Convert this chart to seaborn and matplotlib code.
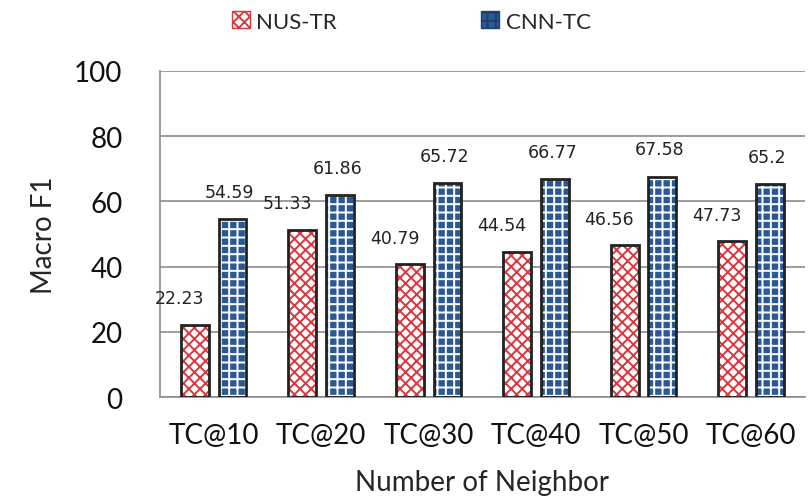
import matplotlib
matplotlib.use("Agg")
import pandas as pd
import seaborn as sns
from matplotlib import pyplot as plt
from matplotlib.patches import Rectangle, Patch

# data
neighbors = ['TC@10', 'TC@20', 'TC@30', 'TC@40', 'TC@50', 'TC@60']
nus_tr = [22.23, 51.33, 40.79, 44.54, 46.56, 47.73]
cnn_tc = [54.59, 61.86, 65.72, 66.77, 67.58, 65.2]
methods = ['NUS-TR', 'CNN-TC']

frame = pd.DataFrame({
    'neighbor': neighbors * 2,
    'f1': nus_tr + cnn_tc,
    'method': [methods[0]] * len(neighbors) + [methods[1]] * len(neighbors),
})

sns.set_style("white")
plt.rcParams['font.family'] = ['Lato', 'DejaVu Sans']
plt.rcParams['hatch.linewidth'] = 1.4

# style per series: face, hatch colour, hatch pattern
styles = {
    'NUS-TR': ('white', '#d9363e', 'xxx'),
    'CNN-TC': ('#2b5993', 'white', '++'),
}

fig = plt.figure(figsize=(8.08, 5.02), dpi=100)
ax = fig.add_axes([0.198, 0.207, 0.798, 0.65])

sns.barplot(data=frame, x='neighbor', y='f1', hue='method', hue_order=methods,
            order=neighbors, width=0.7, gap=0.26, ax=ax, legend=False)

for method, bars in zip(methods, ax.containers):
    face, hcol, hatch = styles[method]
    for bar in bars:
        bar.set_facecolor(face)
        bar.set_edgecolor(hcol)
        bar.set_hatch(hatch)
        bar.set_linewidth(0)
        # dark outline on top of hatched bar
        ax.add_patch(Rectangle(bar.get_xy(), bar.get_width(), bar.get_height(),
                               fill=False, edgecolor='#222222', linewidth=2, zorder=3))

# value labels, placed up and to the left like the original
offsets = {'NUS-TR': (-11, 19), 'CNN-TC': (-2, 19.5)}
for method, bars in zip(methods, ax.containers):
    dx, dy = offsets[method]
    for bar in bars:
        h = bar.get_height()
        ax.annotate(f'{h:g}', (bar.get_x() + bar.get_width() / 2, h),
                    xytext=(dx, dy), textcoords='offset points',
                    ha='center', va='center', fontsize=12.5,
                    family='DejaVu Sans', color='#222222')

ax.set_ylim(0, 100)
ax.set_xlim(-0.5, 5.5)
ax.set_yticks([0, 20, 40, 60, 80, 100])
ax.yaxis.grid(True, color='#8c8c8c', linewidth=1.2)
ax.set_axisbelow(True)
ax.tick_params(axis='both', length=0, labelsize=20, colors='#111111')
ax.tick_params(axis='x', pad=18)
ax.tick_params(axis='y', pad=27)
for side in ['top', 'right']:
    ax.spines[side].set_visible(False)
for side in ['left', 'bottom']:
    ax.spines[side].set_color('#8c8c8c')
    ax.spines[side].set_linewidth(1.2)

ax.set_xlabel('Number of Neighbor', fontsize=20, labelpad=15)
ax.set_ylabel('Macro F1', fontsize=20, labelpad=12)

handles = [Patch(facecolor=styles[m][0], edgecolor=styles[m][1] if m == 'NUS-TR' else '#1f3f6a',
                 hatch=styles[m][2]) for m in methods]
fig.legend(handles, methods, loc='center', bbox_to_anchor=(0.509, 0.955), ncol=2,
           frameon=False, fontsize=16, handlelength=0.8, handleheight=0.8,
           handletextpad=0.3, columnspacing=6.5)

fig.savefig('out.png', dpi=100)
